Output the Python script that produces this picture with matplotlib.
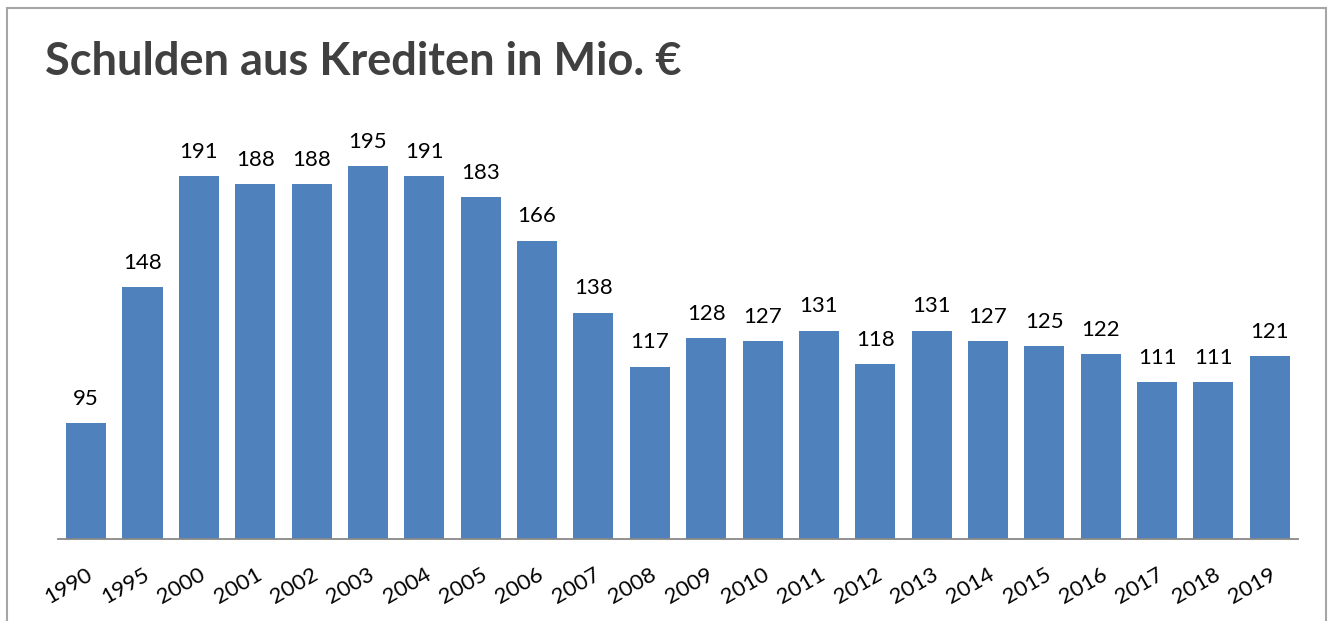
import matplotlib.pyplot as plt
from matplotlib.patches import Rectangle

# Chart data
years = ['1990', '1995', '2000', '2001', '2002', '2003', '2004', '2005', '2006', '2007', '2008',
         '2009', '2010', '2011', '2012', '2013', '2014', '2015', '2016', '2017', '2018', '2019']
debts = [95, 148, 191, 188, 188, 195, 191, 183, 166, 138, 117,
         128, 127, 131, 118, 131, 127, 125, 122, 111, 111, 121]

bar_color = '#4F81BD'
text_color = '#404040'

plt.rcParams['font.family'] = ['Lato', 'DejaVu Sans']

fig = plt.figure(figsize=(13.32, 6.21), dpi=100)
ax = fig.add_axes([0.0435, 0.132, 0.931, 0.6216])

x = range(len(years))
bars = ax.bar(x, debts, width=0.71, color=bar_color, zorder=2)

# value labels above the bars
for xi, v in zip(x, debts):
    ax.text(xi, v + 5.5, str(v), ha='center', va='bottom', fontsize=16, color='black', clip_on=False)

ax.set_xlim(-0.5, len(years) - 0.5)
ax.set_ylim(50, 200)

# only the baseline is shown
for side in ['top', 'right', 'left']:
    ax.spines[side].set_visible(False)
ax.spines['bottom'].set_color('#888888')
ax.spines['bottom'].set_linewidth(1.3)
ax.set_yticks([])
ax.set_xticks(list(x))
ax.set_xticklabels(years, rotation=30, ha='right', rotation_mode='anchor', fontsize=16, color='black')
ax.tick_params(axis='x', length=0, pad=18)

# title
fig.text(0.034, 0.9, 'Schulden aus Krediten in Mio. €', fontsize=32.5, fontweight='bold',
         color=text_color, ha='left', va='center')

# outer frame
fig.patches.append(Rectangle((7 / 1332, -0.01), 1319 / 1332, 1 - 8 / 621 + 0.01, transform=fig.transFigure,
                             fill=False, edgecolor='#A6A6A6', linewidth=1.5))

fig.savefig('out.png', dpi=100)
